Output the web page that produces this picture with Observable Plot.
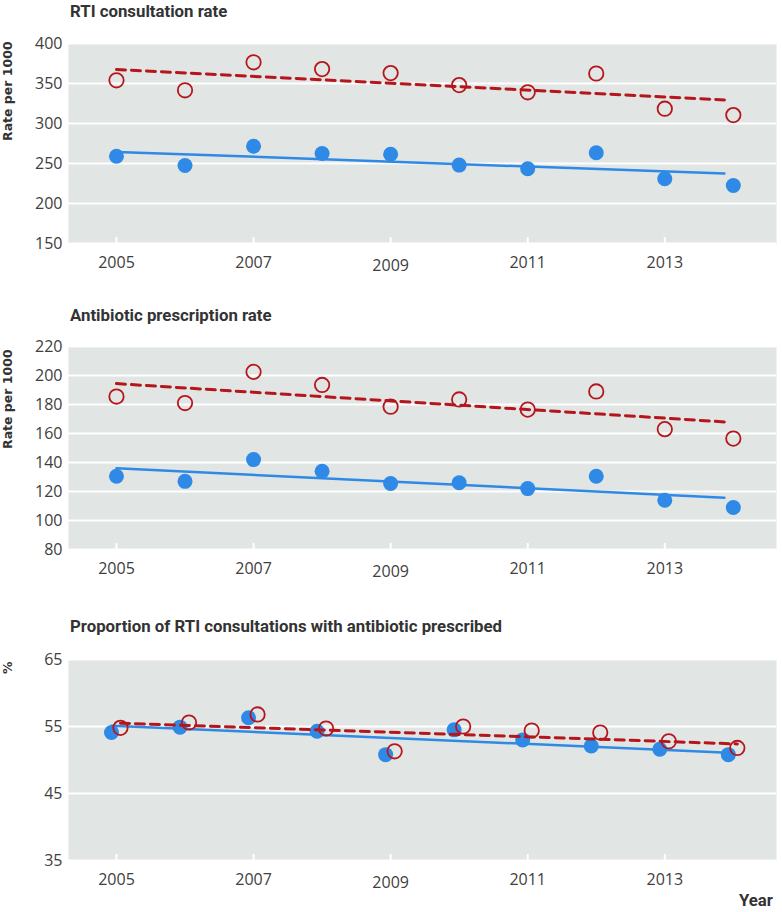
<!DOCTYPE html>
<html><head><meta charset="utf-8">
<script src="https://cdn.jsdelivr.net/npm/d3@7"></script>
<script src="https://cdn.jsdelivr.net/npm/@observablehq/plot@0.6"></script>
<style>
body{margin:0;background:#fff;}
#root{position:relative;width:782px;height:912px;overflow:hidden;background:#fff;}
.title{position:absolute;left:70px;font-family:Roboto;font-weight:700;font-size:16.8px;color:#333;line-height:20px;white-space:nowrap;}
.ylab{position:absolute;font-family:"DejaVu Sans";font-weight:bold;font-size:12.5px;color:#333;line-height:18px;white-space:nowrap;transform:rotate(-90deg);transform-origin:0 0;}
.panel{position:absolute;left:0;}
</style></head>
<body><div id="root"></div>
<script>
// ---- data ----
const years = [2005, 2006, 2007, 2008, 2009, 2010, 2011, 2012, 2013, 2014];
const xTicks = [2005, 2007, 2009, 2011, 2013];
const xTicksLowered = [2009];

const consultBlue = [259, 247.5, 271.5, 262.5, 261.5, 248, 243.5, 263.5, 231, 222.5];
const consultRed  = [354, 341.5, 376.5, 368, 363, 348, 339, 362.5, 318.5, 310.5];
const consultTrendYears = [2005, 2013.87];
const consultBlueTrend = [264.5, 237.5];
const consultRedTrend  = [367.5, 329.5];
const consultTicks = [150, 200, 250, 300, 350, 400];

const prescBlue = [130.5, 127, 142, 134, 125.5, 126, 122, 130.5, 114, 109];
const prescRed  = [185.5, 181, 202.5, 193.5, 178.5, 183.5, 176.5, 189, 163, 156.5];
const prescTrendYears = [2005, 2013.87];
const prescBlueTrend = [136, 115.7];
const prescRedTrend  = [194.4, 168];
const prescTicks = [80, 100, 120, 140, 160, 180, 200, 220];

const propBlue = [54.1, 54.9, 56.3, 54.3, 50.8, 54.5, 53.0, 52.1, 51.6, 50.8];
const propRed  = [54.8, 55.6, 56.8, 54.7, 51.3, 55.0, 54.4, 54.1, 52.8, 51.8];
const propTrendYears = [2005, 2014];
const propBlueTrend = [55.1, 51.1];
const propRedTrend  = [55.5, 52.4];
const propTicks = [35, 45, 55, 65];

const titles = ["RTI consultation rate", "Antibiotic prescription rate", "Proportion of RTI consultations with antibiotic prescribed"];
const yLabels = ["Rate per 1000", "Rate per 1000", "%"];

// ---- style ----
const BLUE = "#2e8ae6", RED = "#b5161c", BG = "#e1e5e3";
const root = document.getElementById("root");

function addDiv(cls, text, css) {
  const d = document.createElement("div");
  d.className = cls; d.textContent = text;
  Object.assign(d.style, css);
  root.appendChild(d);
}

function panel({top, marginTop, plotH, domain, yTicks, blue, red, trendYears, blueTrend, redTrend, blueDx = 0, redDx = 0}) {
  const pts = years.map((y, i) => ({year: y, blue: blue[i], red: red[i]}));
  const tr = trendYears.map((y, i) => ({year: y, blue: blueTrend[i], red: redTrend[i]}));
  const chart = Plot.plot({
    width: 782, height: marginTop + plotH + 40,
    marginTop, marginBottom: 40, marginLeft: 68, marginRight: 6,
    x: {domain: [2004.3, 2014.63]},
    y: {domain},
    style: {fontFamily: "Open Sans", fontSize: "16px", color: "#404040", background: "transparent", overflow: "visible"},
    marks: [
      Plot.frame({fill: BG, stroke: null}),
      Plot.ruleY(yTicks, {stroke: "white", strokeWidth: 2}),
      Plot.ruleX(xTicks, {stroke: "white", strokeWidth: 2, insetTop: plotH - 6}),
      Plot.axisY({ticks: yTicks, tickSize: 0, tickPadding: 6, label: null}),
      Plot.axisX({ticks: xTicks.filter(t => !xTicksLowered.includes(t)), tickSize: 0, tickPadding: 13, tickFormat: d => String(d), label: null}),
      Plot.axisX({ticks: xTicksLowered, tickSize: 0, tickPadding: 16, tickFormat: d => String(d), label: null}),
      Plot.line(tr, {x: "year", y: "blue", stroke: BLUE, strokeWidth: 2.5, dx: blueDx}),
      Plot.dot(pts, {x: "year", y: "blue", r: 7.5, fill: BLUE, stroke: null, dx: blueDx}),
      Plot.line(tr, {x: "year", y: "red", stroke: RED, strokeWidth: 3, strokeDasharray: "9,6", dx: redDx}),
      Plot.dot(pts, {x: "year", y: "red", r: 7.2, fill: "none", stroke: RED, strokeWidth: 1.8, dx: redDx})
    ]
  });
  chart.classList.add("panel");
  chart.style.top = top + "px";
  root.appendChild(chart);
}

panel({top: 0, marginTop: 43, plotH: 200, domain: [150, 400], yTicks: consultTicks,
  blue: consultBlue, red: consultRed, trendYears: consultTrendYears, blueTrend: consultBlueTrend, redTrend: consultRedTrend});
panel({top: 300, marginTop: 46, plotH: 203, domain: [80, 220], yTicks: prescTicks,
  blue: prescBlue, red: prescRed, trendYears: prescTrendYears, blueTrend: prescBlueTrend, redTrend: prescRedTrend});
panel({top: 615, marginTop: 44, plotH: 201, domain: [35, 65], yTicks: propTicks,
  blue: propBlue, red: propRed, trendYears: propTrendYears, blueTrend: propBlueTrend, redTrend: propRedTrend,
  blueDx: -5, redDx: 4});

addDiv("title", titles[0], {top: "1px"});
addDiv("title", titles[1], {top: "305px"});
addDiv("title", titles[2], {top: "616px"});
addDiv("ylab", yLabels[0], {left: "-1px", top: "141px"});
addDiv("ylab", yLabels[1], {left: "-1px", top: "449px"});
addDiv("ylab", yLabels[2], {left: "-1px", top: "674px"});
addDiv("title", "Year", {left: "auto", right: "9px", top: "890px"});
</script>
</body></html>
